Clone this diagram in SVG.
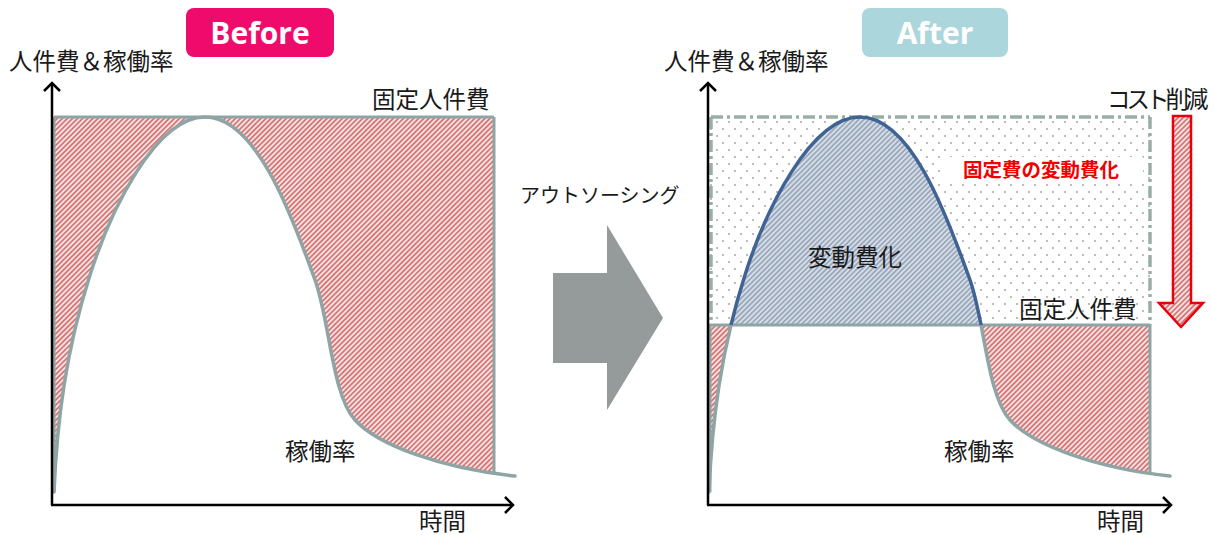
<svg xmlns="http://www.w3.org/2000/svg" width="1214" height="535" viewBox="0 0 1214 535">
<style>
.jp{font-family:"Noto Sans CJK JP","Noto Sans CJK SC",sans-serif;fill:#1a1a1a}
.lbl{font-size:23.5px}
.badge{font-family:"Open Sans","Liberation Sans",sans-serif;font-weight:bold;font-size:30px;fill:#fff}
.axis{stroke:#000;stroke-width:2.5;fill:none}
.edge{stroke:#8FA4A4;stroke-width:3;fill:none}
.curve{stroke:#8FA4A4;stroke-width:3.5;fill:none;stroke-linecap:round}
.hump{stroke:#3F6394;stroke-width:3.5;fill:none}
.dash{stroke:#9AAEA8;stroke-width:3.5;fill:none;stroke-dasharray:12 4 3 4}
</style>
<defs>
<pattern id="redHatch" patternUnits="userSpaceOnUse" width="3.6" height="3.6" patternTransform="rotate(-45)">
<rect width="3.6" height="3.6" fill="#F5E2E2"/>
<line x1="0" y1="1.8" x2="3.6" y2="1.8" stroke="#D06262" stroke-width="1.5"/>
</pattern>
<pattern id="blueHatch" patternUnits="userSpaceOnUse" width="3.6" height="3.6" patternTransform="rotate(-45)">
<rect width="3.6" height="3.6" fill="#D6DDE6"/>
<line x1="0" y1="1.8" x2="3.6" y2="1.8" stroke="#8A9AB0" stroke-width="1.4"/>
</pattern>
<pattern id="dots" patternUnits="userSpaceOnUse" width="12" height="14">
<rect width="12" height="14" fill="#fff"/>
<circle cx="3" cy="3" r="0.8" fill="#666"/>
<circle cx="9" cy="10" r="0.8" fill="#666"/>
</pattern>
<marker id="chev" viewBox="-10 -10 12 20" refX="0" refY="0" markerUnits="userSpaceOnUse" markerWidth="12" markerHeight="20" orient="auto">
<path d="M-8,-8 L0,0 L-8,8" fill="none" stroke="#000" stroke-width="2.5"/>
</marker>
<path id="util" d="M54,492 C57,420 66,350 90,275 C110,212 155,117 205,117 C255,117 290,210 315,280 C330,322 332,395 355,420 C378,445 440,468 515,476"/>
<path id="utilArea" d="M54,492 C57,420 66,350 90,275 C110,212 155,117 205,117 C255,117 290,210 315,280 C330,322 332,395 355,420 C378,445 440,468 515,476 L515,500 L54,500 Z"/>
<clipPath id="above"><rect x="700" y="100" width="460" height="225"/></clipPath>
<clipPath id="below"><rect x="700" y="325" width="500" height="200"/></clipPath>
</defs>

<g id="before-badge">
<rect x="186" y="8" width="148" height="49" rx="8" fill="#EE0B6B"/>
<text class="badge" x="260" y="44" text-anchor="middle">Before</text>
</g>

<g id="before-chart">
<rect x="54" y="117" width="440" height="370" fill="url(#redHatch)"/>
<use href="#utilArea" fill="#fff"/>
<line class="edge" x1="54" y1="117" x2="494" y2="117"/>
<line class="edge" x1="494" y1="117" x2="494" y2="474"/>
<line class="edge" x1="54" y1="117" x2="54" y2="492"/>
<use href="#util" class="curve"/>
<line class="axis" x1="52" y1="505" x2="52" y2="83" marker-end="url(#chev)"/>
<line class="axis" x1="51" y1="505" x2="513" y2="505" marker-end="url(#chev)"/>
<text class="jp lbl" x="9" y="70">人件費＆稼働率</text>
<text class="jp lbl" x="372" y="108">固定人件費</text>
<text class="jp lbl" x="285" y="460">稼働率</text>
<text class="jp lbl" x="419" y="530">時間</text>
</g>

<g id="connectors">
<polygon points="553,273 607,273 607,225 663,318 607,410 607,363 553,363" fill="#959B9B"/>
<text class="jp" x="520" y="203" font-size="20">アウトソーシング</text>
</g>

<g id="after-badge">
<rect x="862" y="8" width="146" height="49" rx="8" fill="#ABD6DC"/>
<text class="badge" x="935" y="44" text-anchor="middle">After</text>
</g>

<g id="after-chart">
<rect x="709" y="117" width="441" height="208" fill="url(#dots)"/>
<rect x="709" y="325" width="441" height="165" fill="url(#redHatch)"/>
<use href="#utilArea" transform="translate(655,0)" fill="#fff"/>
<g clip-path="url(#above)">
<use href="#utilArea" transform="translate(655,0)" fill="url(#blueHatch)"/>
</g>
<rect x="943" y="157" width="200" height="26" fill="#fff"/>
<text x="963" y="177" font-family="'Noto Sans CJK JP',sans-serif" font-weight="bold" font-size="19.5" fill="#F20000">固定費の変動費化</text>
<line class="dash" x1="711" y1="117" x2="1150" y2="117"/>
<line class="dash" x1="1150" y1="117" x2="1150" y2="325"/>
<line class="dash" x1="711" y1="117" x2="711" y2="325"/>
<line class="edge" x1="709" y1="325" x2="1150" y2="325"/>
<line class="edge" x1="1150" y1="325" x2="1150" y2="474"/>
<line class="edge" x1="710" y1="325" x2="710" y2="492"/>
<g clip-path="url(#below)">
<use href="#util" transform="translate(655,0)" class="curve"/>
</g>
<g clip-path="url(#above)">
<use href="#util" transform="translate(655,0)" class="hump"/>
</g>
<line class="axis" x1="708" y1="505" x2="708" y2="83" marker-end="url(#chev)"/>
<line class="axis" x1="707" y1="505" x2="1171" y2="505" marker-end="url(#chev)"/>
<text class="jp lbl" x="664" y="70">人件費＆稼働率</text>
<text class="jp lbl" x="1019" y="318">固定人件費</text>
<text class="jp lbl" x="944" y="460">稼働率</text>
<text class="jp lbl" x="1097" y="530">時間</text>
<text class="jp" x="808" y="266" font-size="23.5">変動費化</text>
</g>

<g id="cost-arrow">
<polygon points="1173,116 1191,116 1191,303 1203,303 1181,327 1159,303 1173,303" fill="url(#redHatch)" stroke="#E8000B" stroke-width="2.5" stroke-linejoin="miter"/>
<text class="jp lbl" x="1107" y="108" letter-spacing="-4">コスト削減</text>
</g>
</svg>
